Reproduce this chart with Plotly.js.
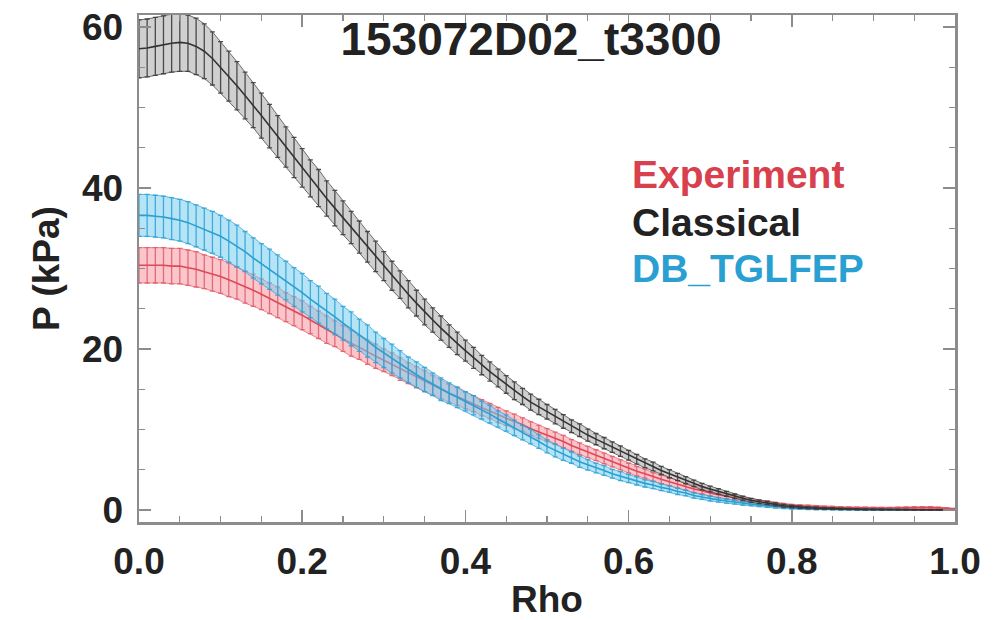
<!DOCTYPE html>
<html>
<head>
<meta charset="utf-8">
<script src="https://cdn.plot.ly/plotly-3.0.1.min.js"></script>
<style>html,body{margin:0;padding:0;background:#fff;}#chart{width:998px;height:620px;}</style>
</head>
<body>
<div id="chart"></div>
<script>
// rho grid (0.00 .. 1.00 step 0.01), written out
const rho = [0.00,0.01,0.02,0.03,0.04,0.05,0.06,0.07,0.08,0.09,0.10,0.11,0.12,0.13,0.14,0.15,0.16,0.17,0.18,0.19,0.20,0.21,0.22,0.23,0.24,0.25,0.26,0.27,0.28,0.29,0.30,0.31,0.32,0.33,0.34,0.35,0.36,0.37,0.38,0.39,0.40,0.41,0.42,0.43,0.44,0.45,0.46,0.47,0.48,0.49,0.50,0.51,0.52,0.53,0.54,0.55,0.56,0.57,0.58,0.59,0.60,0.61,0.62,0.63,0.64,0.65,0.66,0.67,0.68,0.69,0.70,0.71,0.72,0.73,0.74,0.75,0.76,0.77,0.78,0.79,0.80,0.81,0.82,0.83,0.84,0.85,0.86,0.87,0.88,0.89,0.90,0.91,0.92,0.93,0.94,0.95,0.96,0.97,0.98,0.99,1.00];

const classical = [57.3,57.4,57.6,57.8,58.0,58.1,58.0,57.6,57.0,56.1,55.0,53.9,52.7,51.5,50.3,49.0,47.7,46.4,45.1,43.8,42.5,41.2,40.0,38.7,37.5,36.3,35.1,33.9,32.7,31.5,30.3,29.1,28.0,26.8,25.7,24.6,23.6,22.6,21.6,20.7,19.8,18.9,18.0,17.2,16.4,15.6,14.8,14.1,13.4,12.8,12.2,11.6,11.0,10.4,9.9,9.3,8.8,8.3,7.8,7.3,6.8,6.3,5.8,5.4,4.9,4.5,4.1,3.7,3.3,2.9,2.6,2.3,2.0,1.7,1.45,1.2,1.0,0.85,0.68,0.52,0.42,0.34,0.27,0.22,0.18,0.15,0.12,0.1,0.08,0.06,0.05,0.04,0.04,0.03,0.03,0.02,0.02,0.02,0.01,0.01,0.0];
const classicalErr = [3.6,3.6,3.6,3.6,3.6,3.6,3.5,3.5,3.4,3.3,3.2,3.1,3.0,2.9,2.8,2.8,2.7,2.6,2.5,2.5,2.4,2.3,2.3,2.2,2.2,2.1,2.0,2.0,1.9,1.9,1.8,1.8,1.7,1.7,1.6,1.6,1.5,1.5,1.4,1.4,1.3,1.3,1.2,1.2,1.1,1.1,1.1,1.0,1.0,0.95,0.9,0.9,0.85,0.8,0.8,0.75,0.7,0.7,0.65,0.65,0.6,0.6,0.55,0.55,0.5,0.5,0.45,0.45,0.4,0.4,0.35,0.33,0.3,0.28,0.26,0.24,0.22,0.2,0.18,0.16,0.15,0.13,0.12,0.11,0.1,0.09,0.08,0.07,0.06,0.06,0.05,0.05,0.04,0.04,0.04,0.03,0.03,0.03,0.02,0.02,0.02];

const tglfep = [36.6,36.6,36.5,36.4,36.2,36.0,35.7,35.3,34.9,34.5,34.0,33.4,32.8,32.1,31.3,30.6,29.9,29.2,28.5,27.7,27.0,26.2,25.5,24.7,24.0,23.2,22.5,21.7,21.0,20.2,19.5,18.8,18.1,17.4,16.8,16.2,15.6,15.0,14.5,14.0,13.5,13.0,12.4,11.9,11.3,10.8,10.2,9.6,9.1,8.5,7.9,7.4,6.9,6.5,6.0,5.6,5.2,4.9,4.5,4.2,3.9,3.6,3.3,3.1,2.8,2.6,2.3,2.1,1.8,1.6,1.4,1.25,1.1,0.95,0.8,0.7,0.6,0.5,0.4,0.32,0.25,0.2,0.16,0.13,0.1,0.08,0.07,0.06,0.05,0.04,0.04,0.03,0.03,0.02,0.02,0.02,0.01,0.01,0.01,0.01,0.0];
const tglfepErr = [2.6,2.6,2.6,2.6,2.6,2.6,2.6,2.6,2.6,2.6,2.6,2.6,2.6,2.5,2.5,2.5,2.5,2.5,2.4,2.4,2.4,2.3,2.3,2.2,2.2,2.1,2.1,2.0,2.0,1.9,1.8,1.8,1.7,1.6,1.6,1.5,1.4,1.4,1.3,1.3,1.2,1.2,1.1,1.1,1.0,1.0,0.95,0.9,0.9,0.85,0.8,0.8,0.75,0.7,0.7,0.65,0.6,0.6,0.55,0.55,0.5,0.5,0.45,0.45,0.4,0.4,0.38,0.35,0.33,0.3,0.3,0.28,0.26,0.24,0.22,0.2,0.19,0.18,0.17,0.16,0.15,0.13,0.12,0.11,0.1,0.09,0.08,0.07,0.06,0.06,0.05,0.05,0.04,0.04,0.04,0.03,0.03,0.03,0.02,0.02,0.02];

const experiment = [30.4,30.4,30.4,30.4,30.3,30.3,30.1,29.9,29.6,29.3,29.0,28.6,28.2,27.7,27.3,26.8,26.3,25.8,25.2,24.7,24.2,23.6,23.0,22.4,21.9,21.3,20.7,20.2,19.6,19.1,18.6,18.1,17.5,17.0,16.5,16.0,15.5,15.0,14.5,14.1,13.6,13.2,12.7,12.3,11.8,11.4,11.0,10.6,10.1,9.7,9.3,8.9,8.5,8.0,7.6,7.2,6.8,6.4,6.0,5.6,5.2,4.8,4.5,4.1,3.8,3.5,3.2,2.9,2.6,2.4,2.1,1.9,1.7,1.5,1.3,1.1,0.95,0.85,0.7,0.6,0.5,0.45,0.4,0.35,0.32,0.3,0.27,0.25,0.23,0.22,0.2,0.2,0.22,0.25,0.28,0.3,0.32,0.3,0.25,0.15,0.1];
const experimentErr = [2.2,2.2,2.2,2.2,2.2,2.2,2.2,2.2,2.1,2.1,2.1,2.1,2.0,2.0,2.0,1.9,1.9,1.9,1.8,1.8,1.8,1.7,1.7,1.7,1.6,1.6,1.6,1.5,1.5,1.5,1.4,1.4,1.4,1.3,1.3,1.3,1.2,1.2,1.1,1.1,1.0,1.0,1.0,0.95,0.95,0.9,0.9,0.85,0.85,0.8,0.8,0.78,0.76,0.74,0.72,0.7,0.68,0.66,0.64,0.62,0.6,0.58,0.56,0.54,0.52,0.5,0.48,0.46,0.44,0.42,0.4,0.38,0.36,0.34,0.32,0.3,0.28,0.26,0.24,0.22,0.2,0.19,0.18,0.17,0.16,0.15,0.14,0.13,0.12,0.11,0.1,0.1,0.1,0.1,0.1,0.1,0.1,0.1,0.1,0.1,0.1];

const xTicks = [0, 0.2, 0.4, 0.6, 0.8, 1.0];
const xTickText = ['0.0', '0.2', '0.4', '0.6', '0.8', '1.0'];
const yTicks = [0, 20, 40, 60];
const yTickText = ['0', '20', '40', '60'];

const titleText = '153072D02_t3300';
const seriesNames = ['Experiment', 'Classical', 'DB_TGLFEP'];

const FONT = 'Liberation Sans, Arial, Helvetica, sans-serif';

function bandTraces(y, err, fillCol, lineCol, barCol, name) {
  const up = y.map((v, i) => v + err[i]);
  const lo = y.map((v, i) => v - err[i]);
  return [
    {x: rho, y: lo, type: 'scatter', mode: 'lines', line: {width: 0, color: fillCol}, hoverinfo: 'skip', showlegend: false},
    {x: rho, y: up, type: 'scatter', mode: 'lines', fill: 'tonexty', fillcolor: fillCol, line: {width: 0.8, color: barCol}, hoverinfo: 'skip', showlegend: false},
    {x: rho, y: lo, type: 'scatter', mode: 'lines', line: {width: 0.8, color: barCol}, hoverinfo: 'skip', showlegend: false},
    {x: rho, y: y, type: 'scatter', mode: 'lines', name: name, line: {width: 1.6, color: lineCol},
     error_y: {type: 'data', array: err, visible: true, color: barCol, thickness: 1.3, width: 2.5},
     showlegend: false}
  ];
}

const traces = [].concat(
  bandTraces(experiment, experimentErr, 'rgba(246,150,160,0.55)', '#dc4a58', 'rgba(225,90,105,0.85)', seriesNames[0]),
  bandTraces(tglfep, tglfepErr, 'rgba(120,205,240,0.55)', '#2a9fd0', 'rgba(45,160,210,0.85)', seriesNames[2]),
  bandTraces(classical, classicalErr, 'rgba(170,170,170,0.55)', '#333333', 'rgba(60,60,60,0.9)', seriesNames[1])
);

const axisCommon = {
  showgrid: false, zeroline: false, showline: true, linecolor: '#8c8c8c', linewidth: 2.5,
  mirror: 'ticks', ticks: 'inside', tickcolor: '#8c8c8c', tickwidth: 1.5, ticklen: 12,
  tickfont: {family: FONT, size: 37, color: '#222', weight: 700}
};

const layout = {
  width: 998, height: 620,
  paper_bgcolor: '#ffffff', plot_bgcolor: '#ffffff',
  margin: {l: 139, r: 43, t: 15, b: 98},
  showlegend: false,
  title: {text: titleText, x: 531 / 998, xanchor: 'center', y: 1 - 39 / 620, yanchor: 'middle',
          font: {family: FONT, size: 46, color: '#222', weight: 700}},
  xaxis: Object.assign({}, axisCommon, {
    range: [0, 1], tickvals: xTicks, ticktext: xTickText, ticklabelstandoff: 5,
    minor: {dtick: 0.05, tick0: 0, ticks: 'inside', ticklen: 6, tickcolor: '#8c8c8c', tickwidth: 1.2},
    title: {text: 'Rho', font: {family: FONT, size: 37, color: '#222', weight: 700}, standoff: 12}
  }),
  yaxis: Object.assign({}, axisCommon, {
    range: [-1.5, 61.5], tickvals: yTicks, ticktext: yTickText, ticklabelstandoff: 6,
    minor: {dtick: 5, tick0: 0, ticks: 'inside', ticklen: 6, tickcolor: '#8c8c8c', tickwidth: 1.2},
    title: {text: 'P (kPa)', font: {family: FONT, size: 37, color: '#222', weight: 700}, standoff: 11}
  }),
  annotations: [
    {text: seriesNames[0], xref: 'paper', yref: 'paper', x: (630 - 139) / 816, y: (522 - 175) / 507, xanchor: 'left', yanchor: 'middle', showarrow: false,
     font: {family: FONT, size: 39, color: '#d8404e', weight: 700}},
    {text: seriesNames[1], xref: 'paper', yref: 'paper', x: (630 - 139) / 816, y: (522 - 222) / 507, xanchor: 'left', yanchor: 'middle', showarrow: false,
     font: {family: FONT, size: 39, color: '#222222', weight: 700}},
    {text: seriesNames[2], xref: 'paper', yref: 'paper', x: (630 - 139) / 816, y: (522 - 268) / 507, xanchor: 'left', yanchor: 'middle', showarrow: false,
     font: {family: FONT, size: 39, color: '#2a9fd2', weight: 700}}
  ]
};

Plotly.newPlot('chart', traces, layout, {staticPlot: true, displayModeBar: false});
</script>
</body>
</html>
